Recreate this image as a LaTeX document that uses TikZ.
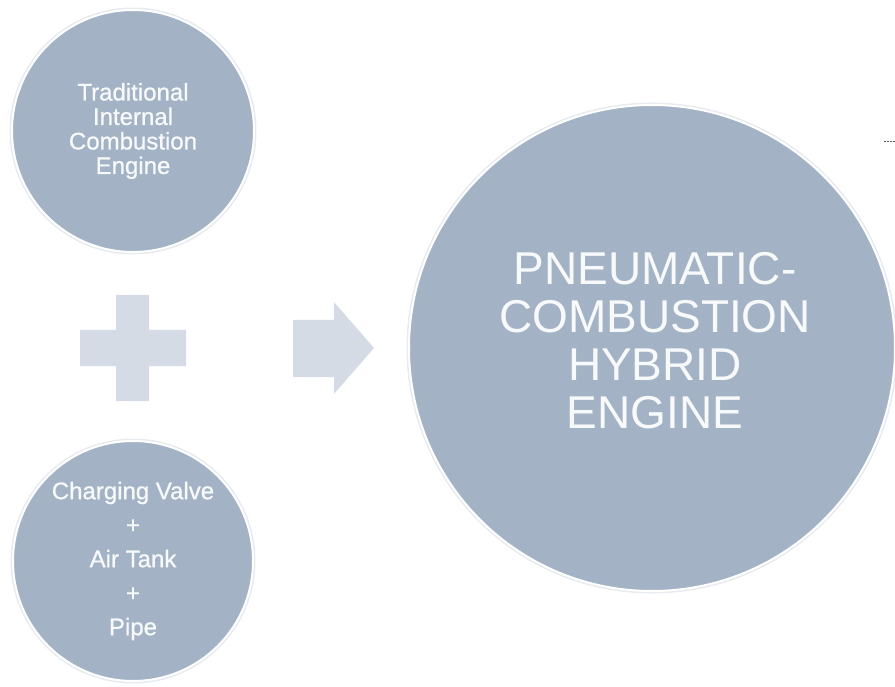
\documentclass[tikz,border=0pt]{standalone}
\usepackage{fontspec}
\setmainfont{Liberation Sans}
\newfontfamily\heavysans[FakeBold=0.8]{Liberation Sans}
\definecolor{discfill}{HTML}{A3B3C5}
\definecolor{signfill}{HTML}{D4DBE4}
\definecolor{halo}{HTML}{E6EBF0}
\definecolor{lettering}{HTML}{F7F9FB}
\begin{document}
\begin{tikzpicture}[x=1pt,y=-1pt,
  disc/.style={circle, inner sep=0pt, fill=discfill, draw=white, line width=2pt,
    preaction={draw=halo, line width=5pt}},
  smalltext/.style={text=lettering, align=center, font=\heavysans\fontsize{24}{24.5}\selectfont},
  listtext/.style={text=lettering, align=center, font=\heavysans\fontsize{24}{34}\selectfont},
  bigtext/.style={text=lettering, align=center, font=\fontsize{46}{48}\selectfont},
  sign/.style={fill=signfill, draw=none},
]
\useasboundingbox (0,0) rectangle (895,687);

% input discs
\node[disc, minimum size=242pt] (ice) at (133,131) {};
\node[disc, minimum size=240pt] (kit) at (133,561) {};
% result disc
\node[disc, minimum size=486pt] (hybrid) at (652,348) {};

% disc labels
\node[smalltext] (iceText) at (ice.center) {Traditional\\Internal\\Combustion\\Engine};
\node[listtext] (kitText) at (kit.center) {Charging Valve\\+\\Air Tank\\+\\Pipe};
\node[bigtext] (hybridText) at (655,341) {PNEUMATIC-\\COMBUSTION\\HYBRID\\ENGINE};

% plus sign between the input discs
\fill[sign] (116,295) -- (149,295) -- (149,330) -- (186,330) -- (186,366)
  -- (149,366) -- (149,401) -- (116,401) -- (116,366) -- (80,366)
  -- (80,330) -- (116,330) -- cycle;

% block arrow towards the result
\fill[sign] (293,320) -- (334,320) -- (334,302) -- (374,348) -- (334,394)
  -- (334,377) -- (293,377) -- cycle;

% small mark at the right edge
\coordinate (markA) at (884,142);
\coordinate (markB) at (895,142);
\draw[gray!70!black, line width=1pt, dash pattern=on 2pt off 1pt] (markA) -- (markB);
\end{tikzpicture}
\end{document}
